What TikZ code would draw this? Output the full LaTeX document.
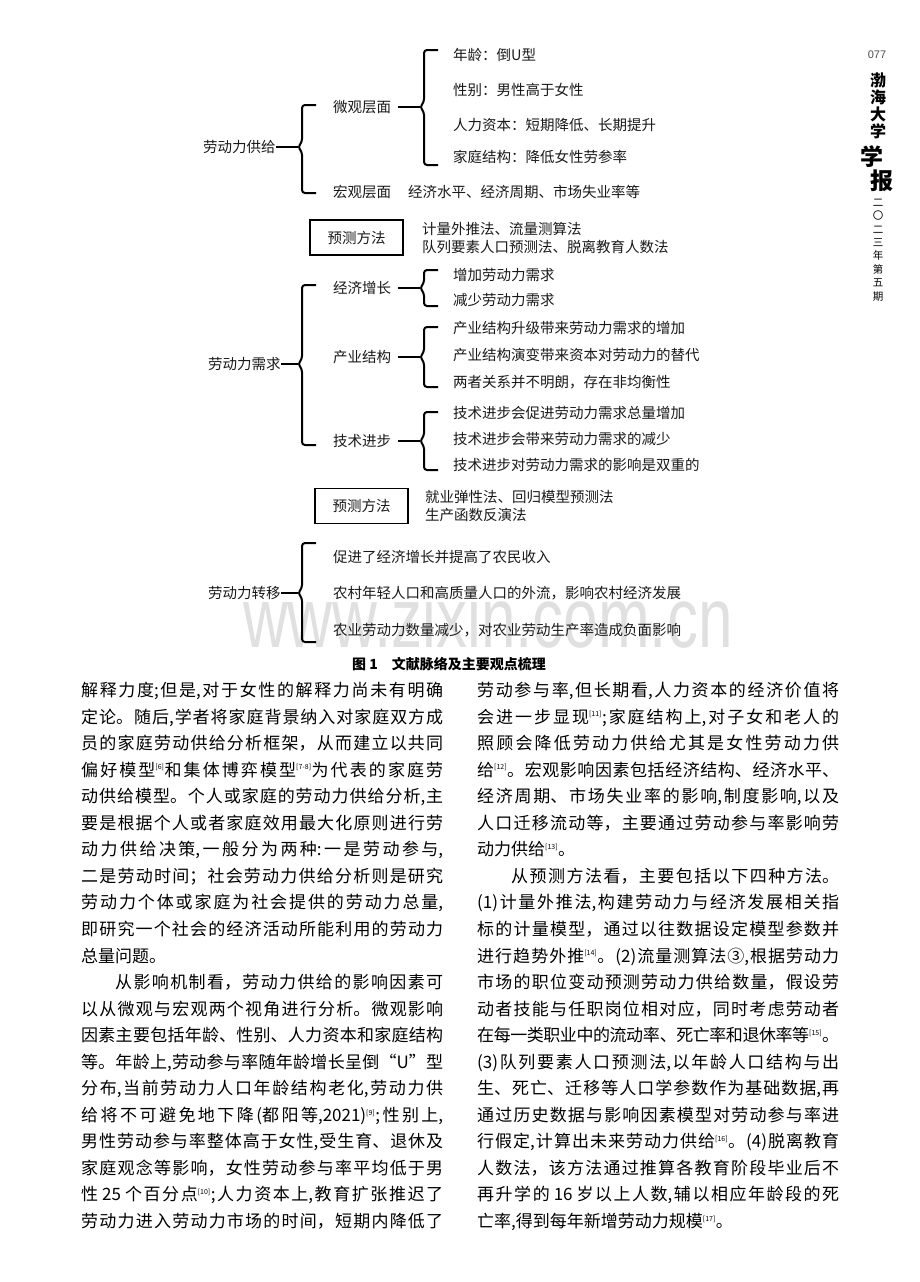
\documentclass[tikz,border=0pt]{standalone}
\usepackage{fontspec}
\setmainfont{Noto Sans CJK SC}
\newfontfamily\latinsans{Liberation Sans}
\XeTeXlinebreaklocale "zh"
\XeTeXlinebreakskip=0pt plus 4pt minus 1pt

\newcommand\sref[1]{\textsuperscript{\fontsize{7}{7}\selectfont[#1]}}
\newcommand\jline[1]{\parbox[t]{362pt}{\tolerance=10000\parfillskip=0pt\noindent #1}}
\newcommand\lastln{\hfill\mbox{}}

\tikzset{
  bodyline/.style={anchor=base west, inner sep=0pt, font=\fontsize{17}{17}\selectfont},
  leaf/.style={anchor=west, inner sep=0pt, text=black!90, font=\fontsize{14.5}{18}\selectfont},
  conn/.style={line width=2pt},
  brk/.style={line width=2pt, rounded corners=3pt},
  methodbox/.style={draw, line width=1.8pt, minimum width=93pt, minimum height=35pt,
    inner sep=0pt, text=black!90, font=\fontsize{14.5}{18}\selectfont},
}

\begin{document}
\begin{tikzpicture}[x=1pt, y=-1pt]
  \useasboundingbox (0,0) rectangle (920,1282);

  % watermark behind the figure
  \node[anchor=base, inner sep=0pt, text=black!12, font=\fontsize{85}{85}\latinsans, xscale=0.73] (wm) at (488,647) {www.zixin.com.cn};

  % labour supply
  \node[leaf] (sup) at (203,147) {劳动力供给};
  \node[leaf] (micro) at (333,107) {微观层面};
  \node[leaf] (macro) at (333,192) {宏观层面};
  \node[leaf] (macrotxt) at (408,192) {经济水平、经济周期、市场失业率等};
  \node[leaf] (age) at (453,55) {年龄：倒U型};
  \node[leaf] (gender) at (453,90) {性别：男性高于女性};
  \node[leaf] (human) at (453,125) {人力资本：短期降低、长期提升};
  \node[leaf] (family) at (453,157) {家庭结构：降低女性劳参率};

  \coordinate (t1) at (298,147);
  \draw[brk] (316,105) -- (302,105) -- (302,142) -- (t1) -- (302,152) -- (302,193) -- (316,193);
  \draw[conn] (sup.east) -- (t1);
  \coordinate (t2) at (420,107);
  \draw[brk] (438,50) -- (424,50) -- (424,102) -- (t2) -- (424,112) -- (424,165) -- (438,165);
  \draw[conn, shorten <=7pt] (micro.east) -- (t2);

  % forecast methods (supply)
  \node[methodbox] (m1) at (356.5,237.5) {预测方法};
  \node[leaf, align=left] (m1txt) at (422,238) {计量外推法、流量测算法\\队列要素人口预测法、脱离教育人数法};

  % labour demand
  \node[leaf] (dem) at (208,364) {劳动力需求};
  \node[leaf] (grow) at (333,288) {经济增长};
  \node[leaf] (ind) at (333,357) {产业结构};
  \node[leaf] (tech) at (333,441) {技术进步};
  \node[leaf] (g1) at (453,275) {增加劳动力需求};
  \node[leaf] (g2) at (453,300) {减少劳动力需求};
  \node[leaf] (i1) at (453,328) {产业结构升级带来劳动力需求的增加};
  \node[leaf] (i2) at (453,355) {产业结构演变带来资本对劳动力的替代};
  \node[leaf] (i3) at (453,382) {两者关系并不明朗，存在非均衡性};
  \node[leaf] (k1) at (453,413) {技术进步会促进劳动力需求总量增加};
  \node[leaf] (k2) at (453,439) {技术进步会带来劳动力需求的减少};
  \node[leaf] (k3) at (453,465) {技术进步对劳动力需求的影响是双重的};

  \coordinate (t3) at (298,364);
  \draw[brk] (316,285) -- (302,285) -- (302,359) -- (t3) -- (302,369) -- (302,445) -- (316,445);
  \draw[conn] (dem.east) -- (t3);
  \coordinate (t4) at (420,288);
  \draw[brk] (438,270) -- (424,270) -- (424,283) -- (t4) -- (424,293) -- (424,306) -- (438,306);
  \draw[conn, shorten <=7pt] (grow.east) -- (t4);
  \coordinate (t5) at (420,357);
  \draw[brk] (438,327) -- (424,327) -- (424,352) -- (t5) -- (424,362) -- (424,387) -- (438,387);
  \draw[conn, shorten <=7pt] (ind.east) -- (t5);
  \coordinate (t6) at (420,441);
  \draw[brk] (438,412) -- (424,412) -- (424,436) -- (t6) -- (424,446) -- (424,470) -- (438,470);
  \draw[conn, shorten <=7pt] (tech.east) -- (t6);

  % forecast methods (demand)
  \node[methodbox] (m2) at (361.5,506) {预测方法};
  \node[leaf, align=left] (m2txt) at (425,506) {就业弹性法、回归模型预测法\\生产函数反演法};

  % labour transfer
  \node[leaf] (trans) at (208,593) {劳动力转移};
  \node[leaf] (r1) at (333,557) {促进了经济增长并提高了农民收入};
  \node[leaf] (r2) at (333,593) {农村年轻人口和高质量人口的外流，影响农村经济发展};
  \node[leaf] (r3) at (333,630) {农业劳动力数量减少，对农业劳动生产率造成负面影响};
  \coordinate (t7) at (298,593);
  \draw[brk] (316,543) -- (302,543) -- (302,588) -- (t7) -- (302,598) -- (302,642) -- (316,642);
  \draw[conn] (trans.east) -- (t7);

  \node[anchor=west, inner sep=0pt, font=\fontsize{14}{14}\selectfont\bfseries] (cap) at (352,664) {图 1\hspace{1em}文献脉络及主要观点梳理};

  % body text, left column
  \foreach \lne [count=\i] in {
    {解释力度;但是,对于女性的解释力尚未有明确},
    {定论。随后,学者将家庭背景纳入对家庭双方成},
    {员的家庭劳动供给分析框架，从而建立以共同},
    {偏好模型\sref{6}和集体博弈模型\sref{7-8}为代表的家庭劳},
    {动供给模型。个人或家庭的劳动力供给分析,主},
    {要是根据个人或者家庭效用最大化原则进行劳},
    {动力供给决策,一般分为两种:一是劳动参与,},
    {二是劳动时间；社会劳动力供给分析则是研究},
    {劳动力个体或家庭为社会提供的劳动力总量,},
    {即研究一个社会的经济活动所能利用的劳动力},
    {总量问题。\lastln},
    {\hspace*{2em}从影响机制看，劳动力供给的影响因素可},
    {以从微观与宏观两个视角进行分析。微观影响},
    {因素主要包括年龄、性别、人力资本和家庭结构},
    {等。年龄上,劳动参与率随年龄增长呈倒“U”型},
    {分布,当前劳动力人口年龄结构老化,劳动力供},
    {给将不可避免地下降(都阳等,2021)\sref{9};性别上,},
    {男性劳动参与率整体高于女性,受生育、退休及},
    {家庭观念等影响，女性劳动参与率平均低于男},
    {性\hspace{4pt}25\hspace{4pt}个百分点\sref{10};人力资本上,教育扩张推迟了},
    {劳动力进入劳动力市场的时间，短期内降低了}}
    \node[bodyline] (l\i) at (81,{696.5+26.55*(\i-1)}) {\jline{\lne}};

  % body text, right column
  \foreach \lne [count=\i] in {
    {劳动参与率,但长期看,人力资本的经济价值将},
    {会进一步显现\sref{11};家庭结构上,对子女和老人的},
    {照顾会降低劳动力供给尤其是女性劳动力供},
    {给\sref{12}。宏观影响因素包括经济结构、经济水平、},
    {经济周期、市场失业率的影响,制度影响,以及},
    {人口迁移流动等，主要通过劳动参与率影响劳},
    {动力供给\sref{13}。\lastln},
    {\hspace*{2em}从预测方法看，主要包括以下四种方法。},
    {(1)计量外推法,构建劳动力与经济发展相关指},
    {标的计量模型，通过以往数据设定模型参数并},
    {进行趋势外推\sref{14}。(2)流量测算法③,根据劳动力},
    {市场的职位变动预测劳动力供给数量，假设劳},
    {动者技能与任职岗位相对应，同时考虑劳动者},
    {在每一类职业中的流动率、死亡率和退休率等\sref{15}。},
    {(3)队列要素人口预测法,以年龄人口结构与出},
    {生、死亡、迁移等人口学参数作为基础数据,再},
    {通过历史数据与影响因素模型对劳动参与率进},
    {行假定,计算出未来劳动力供给\sref{16}。(4)脱离教育},
    {人数法，该方法通过推算各教育阶段毕业后不},
    {再升学的\hspace{4pt}16\hspace{4pt}岁以上人数,辅以相应年龄段的死},
    {亡率,得到每年新增劳动力规模\sref{17}。\lastln}}
    \node[bodyline] (r\i) at (477,{696.5+26.55*(\i-1)}) {\jline{\lne}};

  % running head
  \node[font=\fontsize{11}{11}\latinsans, text=black!70] (pgno) at (877,55) {077};
  \node[align=center, font=\fontsize{16}{17}\selectfont\bfseries] (jname) at (878,105.5) {渤\\海\\大\\学};
  \node[font=\fontsize{23}{23}\selectfont\bfseries] (xue) at (872,157) {学};
  \node[font=\fontsize{23}{23}\selectfont\bfseries] (bao) at (882,181) {报};
  \node[align=center, font=\fontsize{10.5}{13.4}\selectfont] (issue) at (878,250) {二\\〇\\二\\三\\年\\第\\五\\期};
\end{tikzpicture}
\end{document}
